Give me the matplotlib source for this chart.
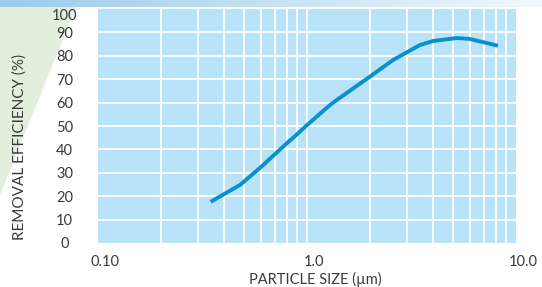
import matplotlib
matplotlib.use("Agg")
import matplotlib.pyplot as plt
from matplotlib.patches import Polygon
from matplotlib.ticker import FixedLocator, NullFormatter
from matplotlib.colors import LinearSegmentedColormap
import matplotlib.transforms as mtransforms
import numpy as np

# Data
particle_size = [0.346, 0.478, 0.596, 0.8, 0.9, 1.0, 1.29, 1.387, 2.0, 2.58, 3.47, 4.0, 5.22, 6.0, 8.2]
efficiency = [17.6, 24.8, 32.1, 42.6, 46.6, 50.4, 59.0, 61.1, 71.1, 78.2, 84.6, 86.3, 87.6, 87.2, 84.3]
x_ticks = [0.1, 1.0, 10.0]
x_tick_labels = ["0.10", "1.0", "10.0"]
y_ticks = [0, 10, 20, 30, 40, 50, 60, 70, 80, 90, 100]

W, H = 542, 287
plt.rcParams['font.family'] = ['Lato', 'DejaVu Sans']
fig = plt.figure(figsize=(W / 100, H / 100), dpi=100)
text_color = "#3a3a3a"

# top gradient banner
banner = fig.add_axes([0, 1 - 7 / H, 1, 7 / H])
grad = np.linspace(0, 1, 256).reshape(1, -1)
cmap = LinearSegmentedColormap.from_list("b", ["#9ccbeb", "#c4e2f4", "#f2f8fd"])
banner.imshow(grad, aspect="auto", cmap=cmap, extent=[0, 1, 0, 1])
banner.axis("off")
banner.set_zorder(-3)

# green triangle at left
tri = Polygon([(0, 1 - 7 / H), (76 / W, 1 - 7 / H), (0, 1 - 195 / H)],
              closed=True, transform=fig.transFigure, facecolor="#e3efdd",
              edgecolor="none", zorder=-2)
fig.patches.append(tri)

left, right, top, bottom = 98, 516, 9, 243
ax = fig.add_axes([left / W, 1 - bottom / H, (right - left) / W, (bottom - top) / H])
ax.set_facecolor("#b9e3f8")
ax.set_xscale("log")
ax.set_xlim(0.1, 10)
ax.set_ylim(0, 100)

minor = [m * 10.0 ** d for d in (-1, 0) for m in range(2, 10)] + [1.0]
ax.set_xticks(x_ticks)
ax.set_xticklabels(x_tick_labels)
ax.xaxis.set_minor_locator(FixedLocator(minor))
ax.xaxis.set_minor_formatter(NullFormatter())
ax.set_yticks(y_ticks)
ax.set_yticklabels([str(v) for v in y_ticks])

for v in minor:
    ax.axvline(v, color="white", lw=1.3, zorder=1)
for v in y_ticks[1:-1]:
    ax.axhline(v, color="white", lw=1.3, zorder=1)

ax.plot(particle_size, efficiency, color="#0990cf", lw=2.8, solid_capstyle="butt", zorder=3)

for s in ax.spines.values():
    s.set_visible(False)
ax.tick_params(axis="both", which="both", length=0, colors=text_color, labelsize=10.5)
ax.tick_params(axis="x", pad=9)
ax.tick_params(axis="y", pad=24)
for lab in ax.get_yticklabels():
    lab.set_horizontalalignment("center")
    if lab.get_text() == "100":
        lab.set_verticalalignment("top")
shift = mtransforms.ScaledTranslation(7 / 100, 0, fig.dpi_scale_trans)
for lab in ax.get_xticklabels():
    lab.set_horizontalalignment("center")
    lab.set_transform(lab.get_transform() + shift)

fig.text(315 / W, 1 - 279 / H, "PARTICLE SIZE (µm)", fontsize=10.5, color=text_color,
         ha="center", va="center")
fig.text(20 / W, 1 - 240 / H, "REMOVAL EFFICIENCY (%)", rotation=90, fontsize=11,
         color=text_color, ha="left", va="center", rotation_mode="anchor")

fig.savefig("out.png", dpi=100)
